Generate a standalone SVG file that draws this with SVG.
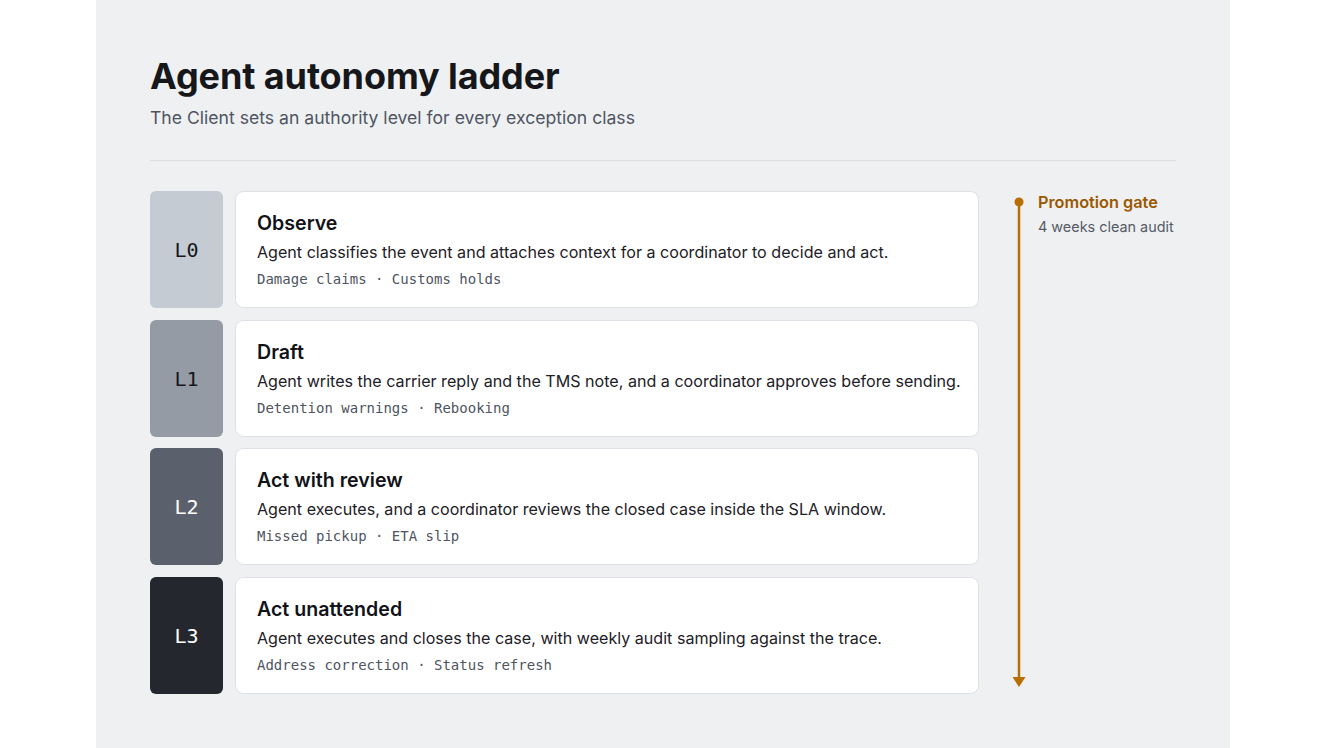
<svg xmlns="http://www.w3.org/2000/svg" width="1326" height="748" viewBox="0 0 1326 748">
<defs>
<style>
.sans{font-family:Inter,"Noto Sans","Liberation Sans",sans-serif}
.mono{font-family:"DejaVu Sans Mono","Liberation Mono",monospace}
.title{font-size:36px;font-weight:700;fill:#15171b;letter-spacing:-0.1px}
.sub{font-size:17.6px;fill:#4e5561}
.card{fill:#ffffff;stroke:#dde0e5;stroke-width:1}
.ct{font-size:19.6px;font-weight:600;fill:#111318}
.cd{font-size:16.1px;fill:#1d2026}
.tag{font-size:14px;fill:#4e5561}
.lvl{font-size:20px;text-anchor:middle}
</style>
</defs>
<rect x="0" y="0" width="1326" height="748" fill="#ffffff"/>
<rect x="96" y="0" width="1134" height="748" fill="#eff0f2"/>
<text class="sans title" x="150" y="89">Agent autonomy ladder</text>
<text class="sans sub" x="150" y="124">The Client sets an authority level for every exception class</text>
<line x1="150" y1="160.5" x2="1176" y2="160.5" stroke="#dcdfe3" stroke-width="1"/>

<g id="L0">
<rect x="150" y="191" width="73" height="117" rx="6" fill="#c5cbd3"/>
<text class="mono lvl" x="186.5" y="257" fill="#15171b">L0</text>
<rect class="card" x="235.5" y="191.5" width="743" height="116" rx="8"/>
<text class="sans ct" x="257" y="230">Observe</text>
<text class="sans cd" x="257" y="258">Agent classifies the event and attaches context for a coordinator to decide and act.</text>
<text class="mono tag" x="257" y="284">Damage claims · Customs holds</text>
</g>
<g id="L1">
<rect x="150" y="320" width="73" height="117" rx="6" fill="#959ba5"/>
<text class="mono lvl" x="186.5" y="386" fill="#15171b">L1</text>
<rect class="card" x="235.5" y="320.5" width="743" height="116" rx="8"/>
<text class="sans ct" x="257" y="359">Draft</text>
<text class="sans cd" x="257" y="387">Agent writes the carrier reply and the TMS note, and a coordinator approves before sending.</text>
<text class="mono tag" x="257" y="413">Detention warnings · Rebooking</text>
</g>
<g id="L2">
<rect x="150" y="448" width="73" height="117" rx="6" fill="#5b616c"/>
<text class="mono lvl" x="186.5" y="514" fill="#ffffff">L2</text>
<rect class="card" x="235.5" y="448.5" width="743" height="116" rx="8"/>
<text class="sans ct" x="257" y="487">Act with review</text>
<text class="sans cd" x="257" y="515">Agent executes, and a coordinator reviews the closed case inside the SLA window.</text>
<text class="mono tag" x="257" y="541">Missed pickup · ETA slip</text>
</g>
<g id="L3">
<rect x="150" y="577" width="73" height="117" rx="6" fill="#24272d"/>
<text class="mono lvl" x="186.5" y="643" fill="#ffffff">L3</text>
<rect class="card" x="235.5" y="577.5" width="743" height="116" rx="8"/>
<text class="sans ct" x="257" y="616">Act unattended</text>
<text class="sans cd" x="257" y="644">Agent executes and closes the case, with weekly audit sampling against the trace.</text>
<text class="mono tag" x="257" y="670">Address correction · Status refresh</text>
</g>
<g id="connectors">
<line x1="1019" y1="202" x2="1019" y2="679" stroke="#b86e00" stroke-width="2.5"/>
<path d="M1012.5,677 L1025.5,677 L1019,687 Z" fill="#b86e00"/>
<circle cx="1019" cy="202" r="4.5" fill="#b86e00"/>
</g>
<g id="gate">
<text class="sans" x="1038" y="208" font-size="16.3" font-weight="600" fill="#9a5800">Promotion gate</text>
<text class="sans" x="1038" y="232" font-size="14.4" fill="#555b66">4 weeks clean audit</text>
</g>
</svg>
